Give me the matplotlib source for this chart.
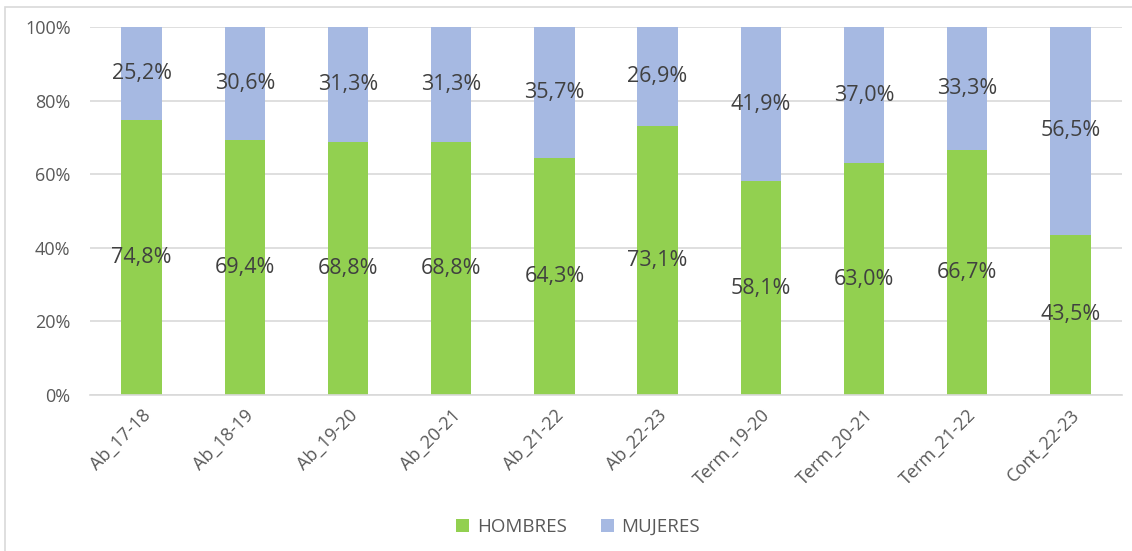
import numpy as np
import matplotlib.pyplot as plt
from matplotlib.patches import Rectangle

plt.rcParams['font.family'] = ['Open Sans', 'DejaVu Sans']

categorias = ['Ab_17-18', 'Ab_18-19', 'Ab_19-20', 'Ab_20-21', 'Ab_21-22',
              'Ab_22-23', 'Term_19-20', 'Term_20-21', 'Term_21-22', 'Cont_22-23']
hombres = [74.8, 69.4, 68.8, 68.8, 64.3, 73.1, 58.1, 63.0, 66.7, 43.5]
mujeres = [25.2, 30.6, 31.3, 31.3, 35.7, 26.9, 41.9, 37.0, 33.3, 56.5]

verde = '#92D050'
azul = '#A6B9E2'
gris = '#595959'

fig = plt.figure(figsize=(11.32, 5.51), dpi=100)
ax = fig.add_axes([90/1132, 1-395/551, 1032/1132, 368/551])

x = np.arange(len(categorias))
w = 0.39
ax.bar(x, hombres, w, color=verde, label='HOMBRES', zorder=2)
ax.bar(x, mujeres, w, bottom=hombres, color=azul, label='MUJERES', zorder=2)

for i in range(len(x)):
    ax.text(x[i], hombres[i]/2, f'{hombres[i]:.1f}%'.replace('.', ','),
            ha='center', va='center', fontsize=15.5, color='#404040', zorder=3)
    ax.text(x[i], hombres[i] + mujeres[i]/2, f'{mujeres[i]:.1f}%'.replace('.', ','),
            ha='center', va='center', fontsize=15.5, color='#404040', zorder=3)

ax.set_xlim(-0.5, len(x) - 0.5)
ax.set_ylim(0, 100)
ax.set_yticks(range(0, 101, 20))
ax.set_yticklabels([f'{v}%' for v in range(0, 101, 20)])
ax.set_xticks(x)
ax.set_xticklabels(categorias, rotation=45, ha='right', rotation_mode='anchor')
ax.tick_params(axis='both', length=0, labelsize=13, colors=gris)
ax.tick_params(axis='y', pad=14)
ax.tick_params(axis='x', pad=8)
ax.grid(axis='y', color='#D9D9D9', linewidth=1.2, zorder=0)
for s in ['top', 'right', 'left']:
    ax.spines[s].set_visible(False)
ax.spines['bottom'].set_color('#D9D9D9')
ax.spines['bottom'].set_linewidth(1.2)

leg = fig.legend(loc='center', bbox_to_anchor=(578/1132, 1-527/551), ncol=2,
                 frameon=False, fontsize=13.5, handlelength=0.7, handleheight=0.7,
                 columnspacing=1.8, handletextpad=0.4)
for t in leg.get_texts():
    t.set_color(gris)

fig.patches.append(Rectangle((5/1132, -0.01), 1.02, 1-7/551 + 0.01,
                             transform=fig.transFigure, fill=False,
                             edgecolor='#D9D9D9', linewidth=1.2))

fig.savefig('out.png', dpi=100)
